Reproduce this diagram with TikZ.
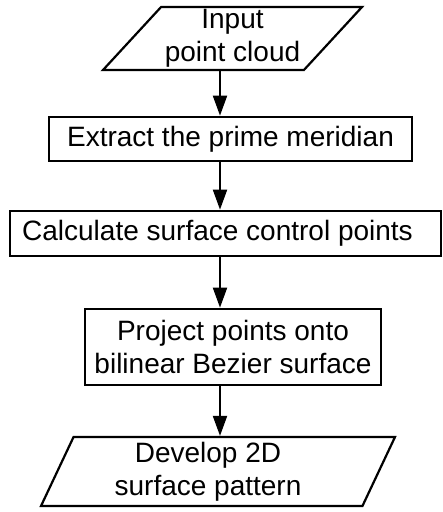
\documentclass[tikz,border=0pt]{standalone}
\usepackage{fontspec}
\setmainfont{Liberation Sans}
\usetikzlibrary{shapes.geometric,arrows.meta}

\begin{document}
\begin{tikzpicture}[x=1pt,y=-1pt,
  every node/.style={font=\fontsize{28}{33}\selectfont, align=center, inner sep=0pt},
  stepbox/.style={draw, line width=2.7pt, rectangle},
  iobox/.style={draw, line width=2.2pt, trapezium, trapezium stretches body},
  flow/.style={line width=2pt, -{Triangle[length=20pt,width=14pt]}}]
\useasboundingbox (0,0) rectangle (443,512);
\coordinate (spine) at (220,0);
\node[iobox, trapezium left angle=45, trapezium right angle=135,
  minimum width=259pt, minimum height=63pt] (input) at (232.5,38.5) {Input\\point cloud};
\node[stepbox, minimum width=363pt, minimum height=44pt] (extract) at (230.5,139) {Extract the prime meridian};
\node[stepbox, minimum width=431pt, minimum height=45pt,
  label={[xshift=-8pt]center:Calculate surface control points}] (calc) at (225.5,233.5) {};
\node[stepbox, minimum width=296pt, minimum height=76pt] (project) at (233,347) {Project points onto\\bilinear Bezier surface};
\node[iobox, trapezium left angle=38.7, trapezium right angle=141.3,
  minimum width=354pt, minimum height=69pt] (develop) at (218,471.5) {\phantom{surface pattern}};
\node (developtext) at ([xshift=-10pt]develop.center) {Develop 2D\\surface pattern};
\draw[flow] (input.south -| spine) -- (extract.north -| spine);
\draw[flow] (extract.south -| spine) -- (calc.north -| spine);
\draw[flow] (calc.south -| spine) -- (project.north -| spine);
\draw[flow] (project.south -| spine) -- (develop.north -| spine);
\end{tikzpicture}
\end{document}
